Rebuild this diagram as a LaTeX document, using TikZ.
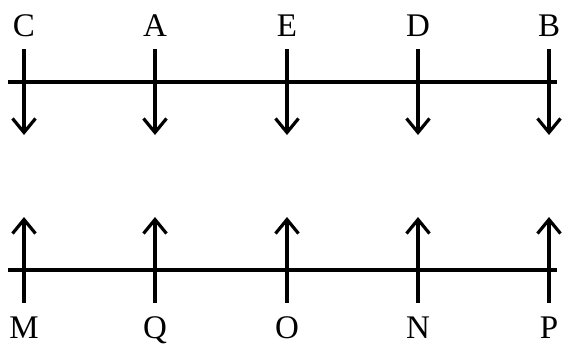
\documentclass[tikz,border=0pt]{standalone}
\usepackage{fontspec}
\setmainfont{Liberation Serif}
\usetikzlibrary{arrows.meta,positioning}

\begin{document}
\begin{tikzpicture}[
x=1pt,y=-1pt,
lbl/.style={
  font=\fontsize{33}{36}\selectfont,
  inner sep=0pt,
  text height=22pt,
  text depth=0pt
},
axis/.style={line width=3.2pt},
arrow/.style={-{Straight Barb[length=14pt,width=23pt,line width=3.2pt]},line width=3.2pt,shorten <=13pt}
]
\useasboundingbox (0,0) rectangle (565,346);
% top row
\node[lbl] (C) at (24,25) {C};
\node[lbl] (A) at (155,25) {A};
\node[lbl] (E) at (287,25) {E};
\node[lbl] (D) at (418,25) {D};
\node[lbl] (B) at (549,25) {B};
\coordinate (topL) at (8,82);
\coordinate (topR) at (557,82);
\coordinate (Cdn) at (24,135);
\coordinate (Adn) at (155,135);
\coordinate (Edn) at (287,135);
\coordinate (Ddn) at (418,135);
\coordinate (Bdn) at (549,135);

% bottom row
\node[lbl] (M) at (24,327) {M};
\node[lbl] (Q) at (155,327) {Q};
\node[lbl] (O) at (287,327) {O};
\node[lbl] (N) at (418,327) {N};
\node[lbl] (P) at (549,327) {P};
\coordinate (botL) at (8,270);
\coordinate (botR) at (557,270);
\coordinate (Mup) at (24,217);
\coordinate (Qup) at (155,217);
\coordinate (Oup) at (287,217);
\coordinate (Nup) at (418,217);
\coordinate (Pup) at (549,217);

\draw[axis] (topL) -- (topR);
\draw[axis] (botL) -- (botR);

\draw[arrow] (C) -- (Cdn);
\draw[arrow] (A) -- (Adn);
\draw[arrow] (E) -- (Edn);
\draw[arrow] (D) -- (Ddn);
\draw[arrow] (B) -- (Bdn);
\draw[arrow] (M) -- (Mup);
\draw[arrow] (Q) -- (Qup);
\draw[arrow] (O) -- (Oup);
\draw[arrow] (N) -- (Nup);
\draw[arrow] (P) -- (Pup);
\end{tikzpicture}
\end{document}
